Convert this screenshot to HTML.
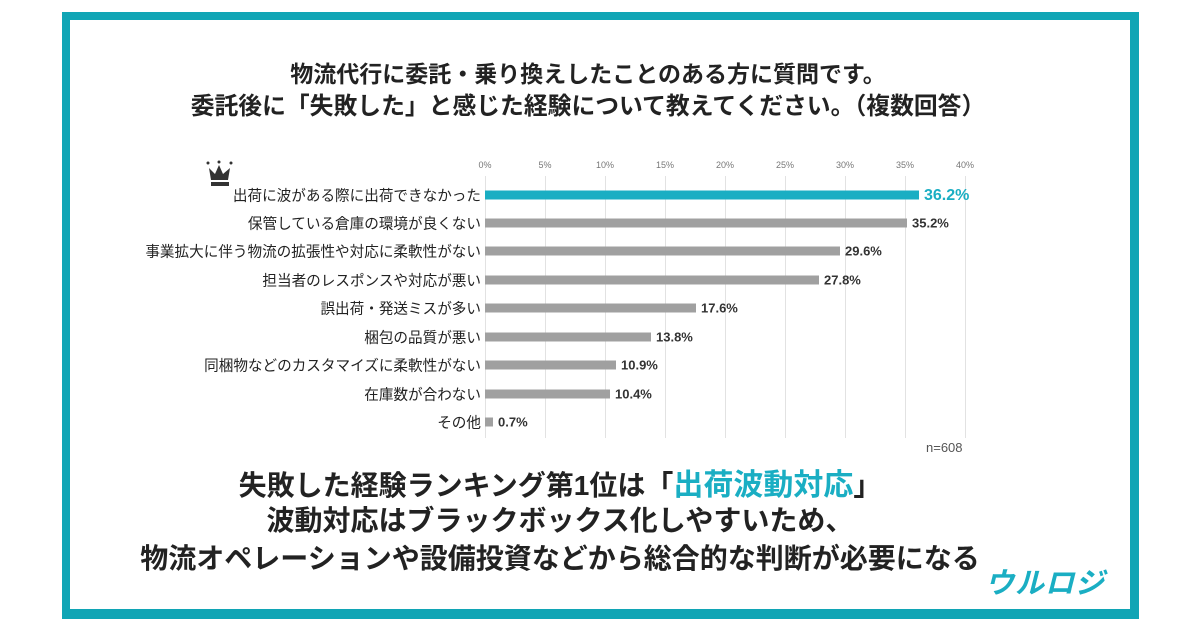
<!DOCTYPE html>
<html><head><meta charset="utf-8"><style>
body{margin:0;width:1200px;height:630px;background:#fff;position:relative;font-family:"Liberation Sans","Noto Sans CJK JP",sans-serif;overflow:hidden}
.frame{position:absolute;left:62px;top:12px;width:1060px;height:589px;border:8px solid #10a5b5;border-right-width:9px;border-bottom-width:10px}
.t{position:absolute;left:0;width:1176px;text-align:center;font-weight:bold;color:#222;white-space:nowrap}
.b{width:1120px}
.lab{position:absolute;right:719px;font-size:14.6px;color:#222;white-space:nowrap;transform:translateY(-50%)}
.bar{position:absolute;left:485px;height:9px;background:#a0a0a0;transform:translateY(-50%)}
.val{position:absolute;font-size:13px;font-weight:bold;color:#333;transform:translateY(-50%)}
.grid{position:absolute;top:176px;height:262px;width:1px;background:#e2e2e2}
.tick{position:absolute;top:160px;font-size:9px;color:#777;transform:translateX(-50%)}
</style></head><body>
<div class="frame"></div>
<div class="t" style="top:55px;font-size:23px">物流代行に委託・乗り換えしたことのある方に質問です。</div>
<div class="t" style="top:86px;font-size:23.8px">委託後に「失敗した」と感じた経験について教えてください。（複数回答）</div>
<svg style="position:absolute;left:205px;top:160px" width="30" height="28"><circle cx="3" cy="3" r="1.5" fill="#333"/><circle cx="14" cy="2" r="1.5" fill="#333"/><circle cx="26" cy="3" r="1.5" fill="#333"/><polygon points="4,8 10,14 14,5 18,14 25,8 23,20 6,20" fill="#333"/><rect x="6" y="22" width="18" height="4" fill="#333"/></svg>
<div class="grid" style="left:485px"></div><div class="grid" style="left:545px"></div><div class="grid" style="left:605px"></div><div class="grid" style="left:665px"></div><div class="grid" style="left:725px"></div><div class="grid" style="left:785px"></div><div class="grid" style="left:845px"></div><div class="grid" style="left:905px"></div><div class="grid" style="left:965px"></div>
<div class="tick" style="left:485px">0%</div><div class="tick" style="left:545px">5%</div><div class="tick" style="left:605px">10%</div><div class="tick" style="left:665px">15%</div><div class="tick" style="left:725px">20%</div><div class="tick" style="left:785px">25%</div><div class="tick" style="left:845px">30%</div><div class="tick" style="left:905px">35%</div><div class="tick" style="left:965px">40%</div>

<div class="lab" style="top:195px">出荷に波がある際に出荷できなかった</div><div class="bar" style="top:195px;width:434px;background:#1aaec3"></div><div class="val" style="top:196px;left:924px;font-size:16px;color:#1aaec3">36.2%</div>
<div class="lab" style="top:223px">保管している倉庫の環境が良くない</div><div class="bar" style="top:223px;width:422px"></div><div class="val" style="top:223px;left:912px">35.2%</div>
<div class="lab" style="top:251px">事業拡大に伴う物流の拡張性や対応に柔軟性がない</div><div class="bar" style="top:251px;width:355px"></div><div class="val" style="top:251px;left:845px">29.6%</div>
<div class="lab" style="top:280px">担当者のレスポンスや対応が悪い</div><div class="bar" style="top:280px;width:334px"></div><div class="val" style="top:280px;left:824px">27.8%</div>
<div class="lab" style="top:308px">誤出荷・発送ミスが多い</div><div class="bar" style="top:308px;width:211px"></div><div class="val" style="top:308px;left:701px">17.6%</div>
<div class="lab" style="top:337px">梱包の品質が悪い</div><div class="bar" style="top:337px;width:166px"></div><div class="val" style="top:337px;left:656px">13.8%</div>
<div class="lab" style="top:365px">同梱物などのカスタマイズに柔軟性がない</div><div class="bar" style="top:365px;width:131px"></div><div class="val" style="top:365px;left:621px">10.9%</div>
<div class="lab" style="top:394px">在庫数が合わない</div><div class="bar" style="top:394px;width:125px"></div><div class="val" style="top:394px;left:615px">10.4%</div>
<div class="lab" style="top:422px">その他</div><div class="bar" style="top:422px;width:8px"></div><div class="val" style="top:422px;left:498px">0.7%</div>
<div style="position:absolute;left:926px;top:440px;font-size:13px;color:#555">n=608</div>

<div class="t b" style="top:460px;font-size:28px">失敗した経験ランキング第1位は「<span style="color:#1aaec3;font-size:30px">出荷波動対応</span>」</div>
<div class="t b" style="top:499px;font-size:28px">波動対応はブラックボックス化しやすいため、</div>
<div class="t b" style="top:537px;font-size:28px">物流オペレーションや設備投資などから総合的な判断が必要になる</div>
<div style="position:absolute;left:985px;top:560px;font-size:29px;font-weight:bold;font-style:italic;color:#1aaec3;letter-spacing:1px">ウルロジ</div>
</body></html>
